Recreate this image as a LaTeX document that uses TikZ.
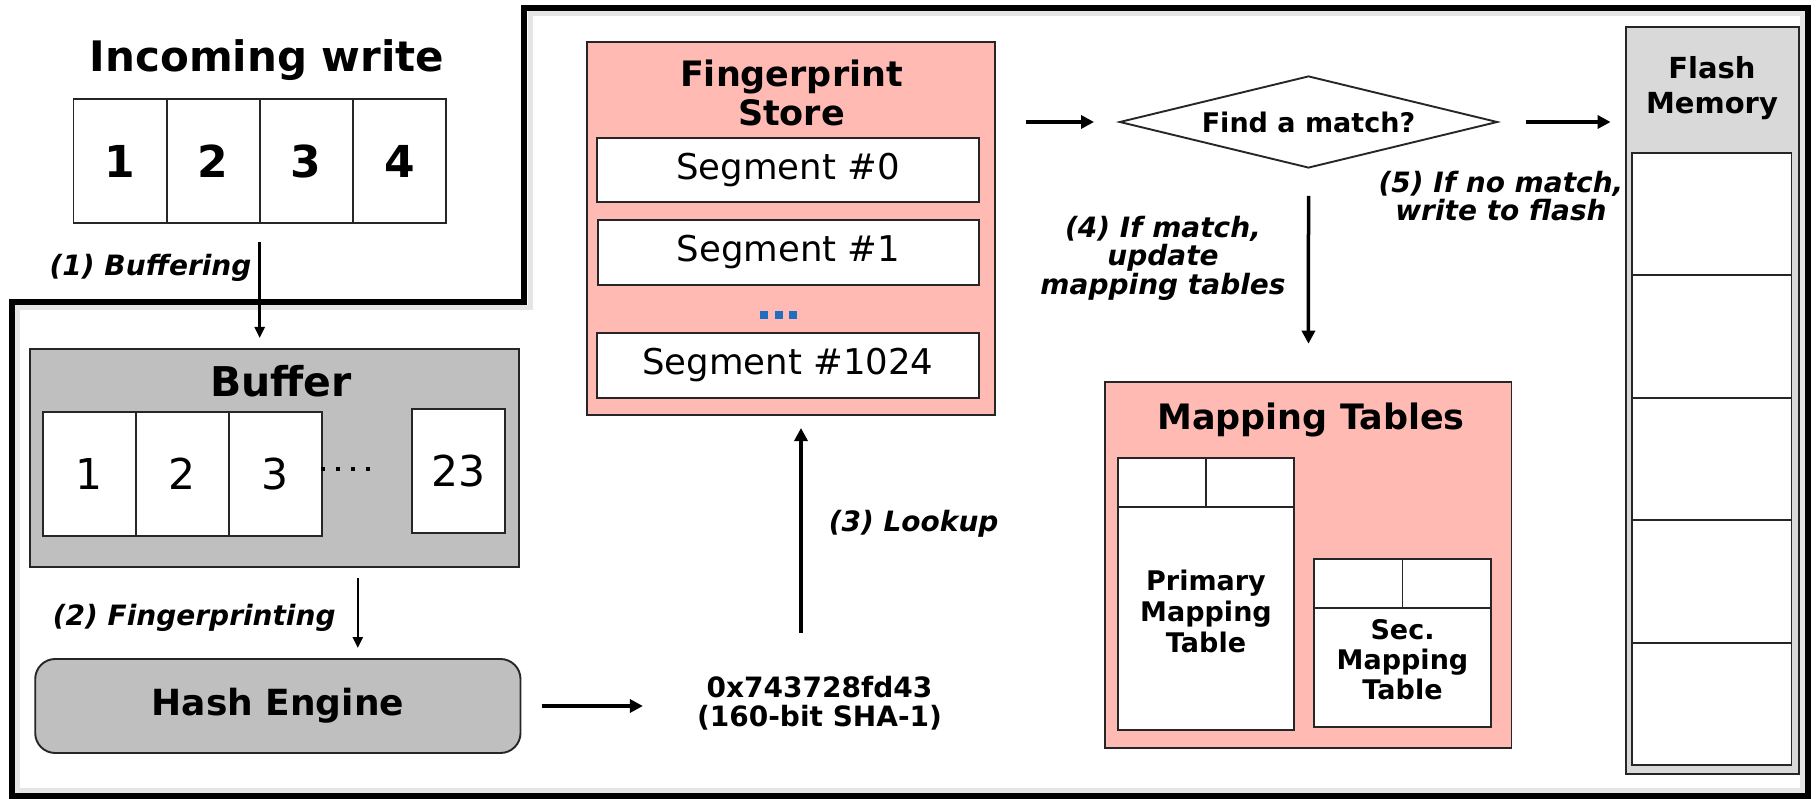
\documentclass[tikz,border=0pt]{standalone}
\usepackage{fontspec}
\setmainfont{DejaVu Sans}
\usetikzlibrary{arrows.meta,shapes.geometric}
\definecolor{salmon}{HTML}{FFBBB3}
\definecolor{midgray}{HTML}{BFBFBF}
\definecolor{lightgraytwo}{HTML}{D9D9D9}
\definecolor{dotblue}{HTML}{1F6FC0}
\newcommand\fsz[2]{\fontsize{#1}{#2}\selectfont}
\begin{document}
\begin{tikzpicture}[x=1pt,y=-1pt,
  box/.style={draw=black!85, line width=1.9pt, inner sep=0pt, outer sep=0pt, anchor=north west},
  arr/.style={line width=3.5pt, -{Triangle[length=13pt,width=13pt]}},
  thinarr/.style={line width=2.5pt, -{Triangle[length=11pt,width=10pt]}},
  lbl/.style={inner sep=0pt, font=\fsz{28}{28.5}\bfseries\itshape},
  divline/.style={draw=black!85, line width=1.9pt},
]
\useasboundingbox (0,0) rectangle (1818,799);

% soft inner shadow of the frame, then the frame
\draw[line width=5pt, black!10, line join=miter] (17.5,308) -- (530,308) -- (530,14) -- (1802,14) -- (1802,790) -- (17.5,790) -- cycle;
\draw[line width=6pt, line join=miter] (11.5,302) -- (524,302) -- (524,8) -- (1808,8) -- (1808,796) -- (11.5,796) -- cycle;

% Incoming write
\node[anchor=base, inner sep=0pt, font=\fsz{42}{42}\bfseries] (iwt) at (267,72) {Incoming write};
\foreach \i/\x in {1/73.5,2/166.6,3/259.75,4/352.9}
  \node[box, fill=white, minimum width=93.1pt, minimum height=124pt, font=\fsz{44}{44}\bfseries] (iw\i) at (\x,99) {\i};

% Buffer
\node[box, fill=midgray, minimum width=488.7pt, minimum height=218pt] (buf) at (29.9,349) {};
\node[anchor=base, inner sep=0pt, font=\fsz{41}{41}\bfseries] (buft) at (281,396.7) {Buffer};
\foreach \i/\x in {1/43,2/136,3/229}
  \node[box, fill=white, minimum width=93pt, minimum height=124.3pt, font=\fsz{42.5}{42.5}] (b\i) at (\x,411.7) {\i};
\node[box, fill=white, minimum width=93pt, minimum height=123.7pt, font=\fsz{42.5}{42.5}] (b23) at (412,409) {23};
\foreach \x in {323,338,353,368} \fill (\x-2.2,466.8) rectangle (\x+2.2,471.2);

% Hash engine
\node[box, fill=midgray, rounded corners=20pt, minimum width=485.3pt, minimum height=94pt, font=\fsz{36}{36}\bfseries] (hash) at (35.2,659) {Hash Engine};

% hex value
\node[align=center, inner sep=0pt, font=\fsz{28}{29.5}\bfseries] (hex) at (819.5,703) {0x743728fd43\\(160-bit SHA-1)};

% Fingerprint store
\node[box, fill=salmon, minimum width=408.3pt, minimum height=373.3pt] (fs) at (586.7,41.7) {};
\node[align=center, inner sep=0pt, font=\fsz{35}{39}\bfseries] (fst) at (791.5,93) {Fingerprint\\Store};
\node[box, fill=white, minimum width=382pt, minimum height=64pt, font=\fsz{35.5}{35.5}] (s0) at (597,137.7) {Segment \#0};
\node[box, fill=white, minimum width=381pt, minimum height=65pt, font=\fsz{35.5}{35.5}] (s1) at (598,220) {Segment \#1};
\node[box, fill=white, minimum width=382pt, minimum height=65pt, font=\fsz{35.5}{35.5}] (s1024) at (597,333) {Segment \#1024};
\foreach \x in {764,778.5,793} \fill[dotblue] (\x-4,311) rectangle (\x+4,319);

% diamond
\node[diamond, draw=black!85, line width=1.9pt, fill=white, aspect=4.1, minimum width=378pt, minimum height=92pt, inner sep=0pt, font=\fsz{27}{27}\bfseries] (dia) at (1308.5,122) {Find a match?};

% Flash memory
\node[box, fill=lightgraytwo, minimum width=173.4pt, minimum height=747.3pt] (flash) at (1625.6,26.7) {};
\node[align=center, inner sep=0pt, font=\fsz{29}{35}\bfseries] (flt) at (1712,88) {Flash\\Memory};
\foreach \i in {1,...,5}
  \node[box, fill=white, minimum width=159.5pt, minimum height=122.4pt] (f\i) at (1632,{153+122.4*(\i-1)}) {};

% Mapping tables
\node[box, fill=salmon, minimum width=406.1pt, minimum height=366.6pt] (mt) at (1105.4,381.7) {};
\node[anchor=base, inner sep=0pt, font=\fsz{35}{35}\bfseries] (mtt) at (1311,430) {Mapping Tables};
\node[box, fill=white, minimum width=176pt, minimum height=271.7pt] (pm) at (1118,458.3) {};
\draw[divline] ([yshift=-49pt]pm.north west) -- ([yshift=-49pt]pm.north east);
\draw[divline] ([yshift=-49pt]pm.north) -- (pm.north);
\node[align=center, inner sep=0pt, font=\fsz{27}{31}\bfseries] (pmt) at (1206,611) {Primary\\Mapping\\Table};
\node[box, fill=white, minimum width=177pt, minimum height=167.7pt] (sm) at (1314,559) {};
\draw[divline] ([yshift=-49.3pt]sm.north west) -- ([yshift=-49.3pt]sm.north east);
\draw[divline] ([yshift=-49.3pt]sm.north) -- (sm.north);
\node[align=center, inner sep=0pt, font=\fsz{27}{30}\bfseries] (smt) at (1402.5,660) {Sec.\\Mapping\\Table};

% labels
\node[lbl, align=center] (l4) at (1163,258) {(4) If match,\\update\\mapping tables};
\node[lbl, align=center] (l5) at (1501,196) {(5) If no match,\\write to flash};

% arrows
\draw[thinarr, shorten <=19pt, shorten >=11pt] (iw2.south east) -- (iw2.south east |- buf.north)
  node[lbl, pos=0.36, left=7pt] (l1) {(1) Buffering};
\coordinate (a2) at ([xshift=327.9pt]buf.south west);
\draw[thinarr, shorten <=11pt, shorten >=11pt] (a2) -- (a2 |- hash.north)
  node[lbl, pos=0.55, left=21pt] (l2) {(2) Fingerprinting};
\draw[arr, shorten <=21pt, shorten >=54pt] (hash.east) -- (hash.east -| hex.west);
\coordinate (lka) at (801,633);
\draw[arr, shorten >=13pt] (lka) -- (lka |- fs.south)
  node[lbl, pos=0.5, right=26pt] (l3) {(3) Lookup};
\draw[arr, shorten <=31pt, shorten >=24.5pt] (fs.east |- dia.west) -- (dia.west);
\draw[arr, shorten <=28pt, shorten >=15pt] (dia.east) -- (dia.east -| flash.west);
\draw[arr, shorten <=27pt, shorten >=38pt] (dia.south) -- (mt.north);
\end{tikzpicture}
\end{document}
